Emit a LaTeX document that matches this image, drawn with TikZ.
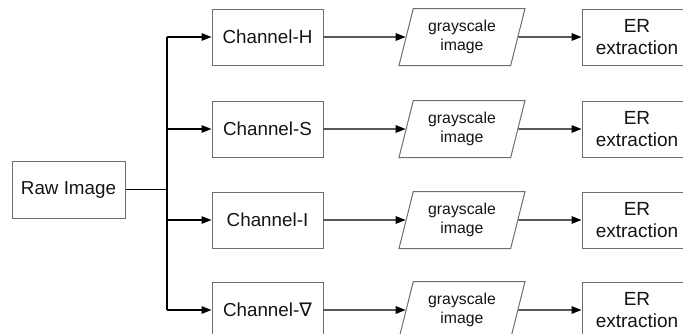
\documentclass[tikz,border=0pt]{standalone}
\usepackage{fontspec}
\setmainfont{Liberation Sans}
\newfontfamily\symfont{DejaVu Sans}
\usetikzlibrary{arrows.meta,shapes.geometric}
\definecolor{boxline}{RGB}{110,110,110}
\definecolor{ink}{RGB}{20,20,20}
\tikzset{
  x=1pt,y=-1pt,
  box/.style={draw=boxline,line width=1pt,rectangle,minimum width=111pt,minimum height=56pt,
    inner sep=0pt,text=ink,font=\fontsize{18.8}{21}\selectfont},
  outbox/.style={draw=boxline,line width=1pt,rectangle,minimum width=110pt,minimum height=56pt,
    inner sep=0pt,text=ink,align=center,font=\fontsize{19}{22}\selectfont},
  gray img/.style={draw=boxline,line width=1pt,trapezium,trapezium left angle=67,trapezium right angle=113,
    trapezium stretches body,minimum width=126pt,minimum height=57pt,inner sep=0pt,
    text=ink,align=center,font=\fontsize{15.8}{19}\selectfont},
  flow/.style={line width=1.4pt,draw=black,-{Triangle[length=10pt,width=7.5pt]}},
  wire/.style={line width=1.4pt,draw=black},
}
\begin{document}
\begin{tikzpicture}
\useasboundingbox (0,0) rectangle (683,333);
% source image
\node[box,minimum width=113pt,minimum height=57pt] (raw) at (68.5,189.5) {Raw Image};
% branching trunk
\coordinate (fork) at (167,189.5);
\coordinate (top) at (167,37);
\coordinate (bot) at (167,310);
\draw[wire] (raw.east) -- (fork);
\draw[wire] (top) -- (bot);
% four channel rows
\foreach \i/\yy/\lab in {1/37/{Channel-H},2/129/{Channel-S},3/220/{Channel-I},4/310/{Channel-{\symfont ∇}}}{
  \node[box] (c\i) at (267.5,\yy) {\lab};
  \node[gray img] (g\i) at (462,\yy) {grayscale\\image};
  \node[outbox] (e\i) at (637,\yy) {ER\\extraction};
  \coordinate (b\i) at (167,\yy);
  \draw[flow] (b\i) -- (c\i.west);
  \draw[flow] (c\i.east) -- (g\i);
  \draw[flow] (g\i) -- (e\i.west);
}
\end{tikzpicture}
\end{document}
